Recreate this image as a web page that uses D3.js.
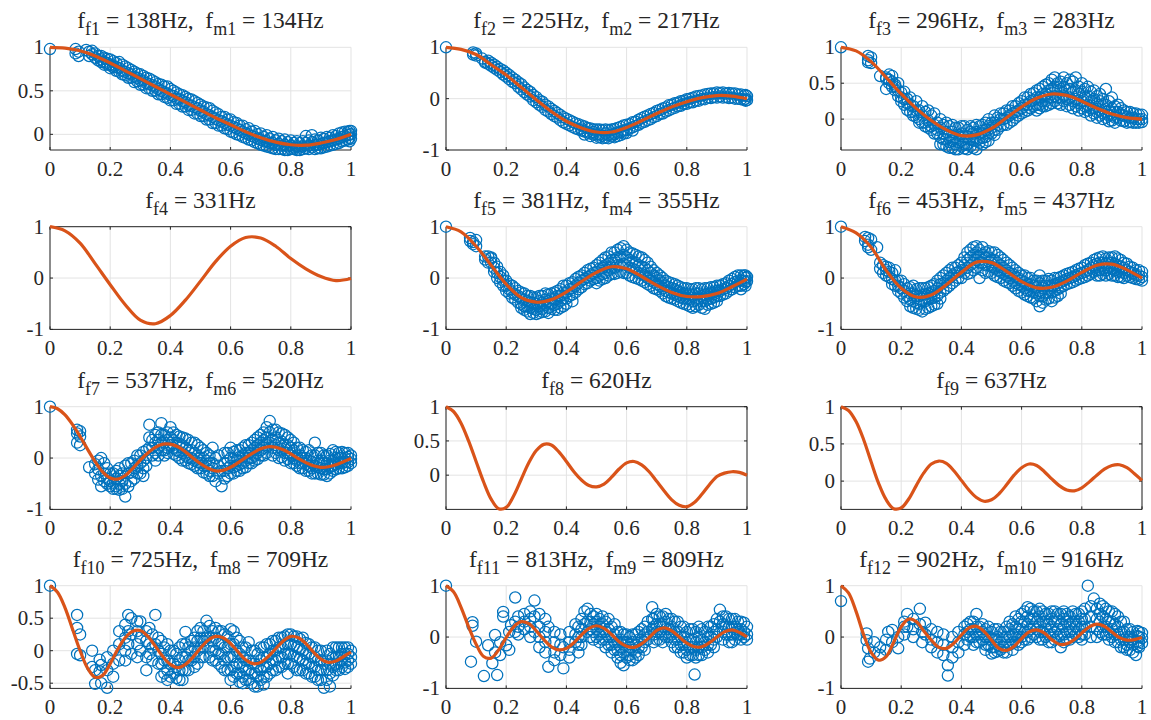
<!DOCTYPE html>
<html><head><meta charset="utf-8">
<script src="https://cdn.jsdelivr.net/npm/d3@7"></script>
</head><body style="margin:0">
<svg id="chart" width="1151" height="720"></svg>
<script>
// ---------- data ----------
const xTicks = [0, 0.2, 0.4, 0.6, 0.8, 1];
const xTickLabels = ["0", "0.2", "0.4", "0.6", "0.8", "1"];
const fNames = ["f1","f2","f3","f4","f5","f6","f7","f8","f9","f10","f11","f12"];
const fFreqs = [138, 225, 296, 331, 381, 453, 537, 620, 637, 725, 813, 902];
const mNames = ["m1","m2","m3",null,"m4","m5","m6",null,null,"m8","m9","m10"];
const mFreqs = [134, 217, 283, null, 355, 437, 520, null, null, 709, 809, 916];
const yDomains = [[-0.18,1],[-1,1],[-0.43,1],[-1,1],[-1,1],[-1,1],[-1,1],[-0.5,1],[-0.38,1],[-0.58,1],[-1,1],[-1,1]];
const yTicks = [[0,0.5,1],[-1,0,1],[0,0.5,1],[-1,0,1],[-1,0,1],[-1,0,1],[-1,0,1],[0,0.5,1],[0,0.5,1],[-0.5,0,0.5,1],[-1,0,1],[-1,0,1]];
const yTickLabels = [["0","0.5","1"],["-1","0","1"],["0","0.5","1"],["-1","0","1"],["-1","0","1"],["-1","0","1"],["-1","0","1"],["0","0.5","1"],["0","0.5","1"],["-0.5","0","0.5","1"],["-1","0","1"],["-1","0","1"]];

const xCoarse = [0,0.05,0.1,0.15,0.2,0.25,0.3,0.35,0.4,0.45,0.5,0.55,0.6,0.65,0.7,0.75,0.8,0.85,0.9,0.95,1];
const xFine = [0,0.025,0.05,0.075,0.1,0.125,0.15,0.175,0.2,0.225,0.25,0.275,0.3,0.325,0.35,0.375,0.4,0.425,0.45,0.475,0.5,0.525,0.55,0.575,0.6,0.625,0.65,0.675,0.7,0.725,0.75,0.775,0.8,0.825,0.85,0.875,0.9,0.925,0.95,0.975,1];

const curve1 = [1.0,0.99,0.96,0.9,0.82,0.73,0.64,0.55,0.46,0.37,0.28,0.19,0.11,0.03,-0.04,-0.09,-0.12,-0.125,-0.1,-0.06,0.0];
const curve2 = [1.0,0.96,0.86,0.66,0.46,0.22,-0.02,-0.25,-0.44,-0.57,-0.65,-0.65,-0.56,-0.43,-0.29,-0.16,-0.06,0.02,0.06,0.05,0.0];
const curve3 = [1.0,0.95,0.8,0.58,0.35,0.15,-0.02,-0.15,-0.23,-0.22,-0.13,0.02,0.17,0.29,0.35,0.33,0.25,0.15,0.07,0.02,0.0];
const curve4 = [1.0,0.92,0.68,0.28,-0.13,-0.52,-0.82,-0.89,-0.73,-0.43,-0.06,0.32,0.62,0.79,0.78,0.62,0.38,0.18,0.03,-0.05,-0.01];
const curve5 = [1.0,0.9,0.62,0.25,-0.12,-0.38,-0.47,-0.42,-0.27,-0.07,0.11,0.22,0.18,0.03,-0.14,-0.28,-0.36,-0.36,-0.3,-0.17,-0.02];
const curve6 = [1.0,0.88,0.6,0.15,-0.2,-0.37,-0.33,-0.13,0.11,0.31,0.3,0.13,-0.07,-0.19,-0.18,-0.06,0.11,0.25,0.27,0.16,0.0];
const curve7 = [1.0,0.96,0.84,0.65,0.42,0.17,-0.07,-0.27,-0.39,-0.41,-0.34,-0.2,-0.04,0.1,0.21,0.27,0.27,0.22,0.12,0.0,-0.11,-0.2,-0.25,-0.24,-0.18,-0.09,0.01,0.1,0.18,0.22,0.21,0.16,0.08,-0.01,-0.09,-0.15,-0.18,-0.17,-0.13,-0.07,-0.01];
const curve8 = [1.0,0.93,0.76,0.5,0.2,-0.1,-0.35,-0.49,-0.47,-0.3,-0.06,0.18,0.36,0.45,0.44,0.34,0.2,0.05,-0.07,-0.15,-0.17,-0.13,-0.03,0.09,0.18,0.2,0.15,0.05,-0.09,-0.23,-0.36,-0.44,-0.46,-0.4,-0.28,-0.14,-0.02,0.03,0.05,0.04,0.0];
const curve9 = [1.0,0.95,0.8,0.56,0.26,-0.03,-0.25,-0.37,-0.36,-0.24,-0.06,0.11,0.23,0.27,0.24,0.14,0.01,-0.12,-0.22,-0.27,-0.25,-0.17,-0.05,0.08,0.18,0.23,0.21,0.13,0.03,-0.06,-0.12,-0.13,-0.09,-0.01,0.08,0.16,0.21,0.22,0.18,0.1,0.01];
const curve10 = [1.0,0.9,0.66,0.33,0.0,-0.27,-0.41,-0.38,-0.2,0.02,0.2,0.3,0.31,0.22,0.07,-0.09,-0.21,-0.26,-0.21,-0.1,0.04,0.16,0.22,0.2,0.11,-0.02,-0.14,-0.2,-0.18,-0.09,0.03,0.15,0.22,0.2,0.11,-0.02,-0.13,-0.18,-0.16,-0.09,-0.02];
const curve11 = [1.0,0.88,0.58,0.2,-0.14,-0.38,-0.41,-0.25,-0.01,0.2,0.3,0.26,0.12,-0.05,-0.19,-0.25,-0.22,-0.11,0.04,0.17,0.22,0.17,0.05,-0.09,-0.18,-0.2,-0.13,-0.01,0.13,0.18,0.12,0.0,-0.12,-0.19,-0.19,-0.11,0.0,0.1,0.14,0.09,0.0];
const curve12 = [1.0,0.86,0.5,0.05,-0.3,-0.45,-0.38,-0.1,0.2,0.35,0.3,0.12,-0.06,-0.2,-0.22,-0.12,0.04,0.18,0.21,0.11,-0.06,-0.22,-0.26,-0.18,-0.03,0.1,0.14,0.08,-0.05,-0.14,-0.13,-0.05,0.08,0.2,0.25,0.21,0.1,-0.01,-0.06,-0.05,-0.01];

// measured points: each entry is [x, y1, y2, ...] (several measurements at one x)
const scatter1 = [[0,0.98],[0.085,0.98,0.93],[0.095,0.95,0.9],[0.13,0.95,0.9],[0.15,0.93,0.88],[0.17,0.9,0.86,0.83],[0.19,0.87,0.82,0.8],[0.21,0.84,0.79,0.77],[0.23,0.83,0.76,0.72],[0.25,0.78,0.72,0.68],[0.27,0.74,0.69,0.65],[0.29,0.7,0.65,0.61],[0.31,0.67,0.62,0.57],[0.33,0.64,0.58,0.53],[0.35,0.6,0.55,0.5],[0.37,0.57,0.5,0.46],[0.39,0.55,0.47,0.42],[0.41,0.5,0.44,0.39],[0.43,0.46,0.41,0.35],[0.45,0.43,0.37,0.32],[0.47,0.4,0.33,0.28],[0.49,0.36,0.3,0.24],[0.51,0.32,0.26,0.21],[0.53,0.3,0.22,0.17],[0.55,0.25,0.18,0.13],[0.57,0.2,0.15,0.1],[0.59,0.17,0.11,0.06],[0.61,0.14,0.08,0.02],[0.63,0.1,0.05,-0.01],[0.65,0.06,0.01,-0.04],[0.67,0.03,-0.02,-0.07],[0.69,0.0,-0.05,-0.1],[0.71,-0.03,-0.08,-0.13],[0.73,-0.05,-0.1,-0.15],[0.75,-0.07,-0.12,-0.17],[0.77,-0.08,-0.13,-0.17],[0.79,-0.09,-0.14,-0.18],[0.81,-0.1,-0.15,-0.17],[0.83,-0.1,-0.15,-0.18],[0.85,-0.02,-0.1,-0.16],[0.87,-0.01,-0.09,-0.15],[0.89,-0.07,-0.12,-0.16],[0.91,-0.05,-0.1,-0.15],[0.93,-0.04,-0.08,-0.13],[0.95,-0.02,-0.06,-0.11],[0.97,0.02,-0.03,-0.08],[0.99,0.03,-0.01,-0.06],[1.0,0.04,0.0,-0.05],
  [0.12,0.97],[0.14,0.92,0.96],[0.16,0.9,0.85],[0.18,0.88,0.83,0.8],[0.2,0.86,0.8,0.76],[0.22,0.82,0.77,0.73],[0.24,0.8,0.73,0.69],[0.26,0.76,0.7,0.65],[0.28,0.72,0.66,0.6],[0.3,0.69,0.62,0.57],[0.32,0.65,0.59,0.53],[0.34,0.62,0.56,0.5],[0.36,0.58,0.52,0.46],[0.38,0.55,0.48,0.43],[0.4,0.52,0.45,0.39],[0.42,0.48,0.41,0.35],[0.44,0.45,0.38,0.32],[0.46,0.41,0.34,0.28],[0.48,0.38,0.31,0.24],[0.5,0.34,0.27,0.21],[0.52,0.31,0.23,0.17],[0.54,0.27,0.2,0.13],[0.56,0.23,0.16,0.1],[0.58,0.2,0.13,0.07],[0.6,0.17,0.1,0.03],[0.62,0.13,0.07,0.0],[0.64,0.1,0.03,-0.03],[0.66,0.07,0.0,-0.06],[0.68,0.04,-0.03,-0.09],[0.7,0.01,-0.06,-0.12],[0.72,-0.01,-0.08,-0.14],[0.74,-0.03,-0.1,-0.16],[0.76,-0.05,-0.11,-0.17],[0.78,-0.06,-0.12,-0.18],[0.8,-0.07,-0.13,-0.17],[0.82,-0.08,-0.14,-0.18],[0.84,-0.08,-0.14,-0.17],[0.86,-0.07,-0.13,-0.17],[0.88,-0.06,-0.12,-0.17],[0.9,-0.04,-0.11,-0.16],[0.92,-0.03,-0.09,-0.14],[0.94,-0.01,-0.07,-0.12],[0.96,0.01,-0.05,-0.1],[0.98,0.03,-0.02,-0.07],[0.995,0.04,0.0,-0.04,-0.08]];
const scatter2 = [[0,1.0],[0.09,0.9,0.86],[0.1,0.88,0.84],[0.12,0.78],[0.13,0.72,0.7],[0.15,0.7,0.64],[0.17,0.62,0.56],[0.19,0.55,0.47],[0.21,0.46,0.38],[0.23,0.37,0.3],[0.25,0.28,0.18],[0.27,0.17,0.08],[0.29,0.07,-0.03],[0.31,-0.03,-0.12],[0.33,-0.12,-0.22],[0.35,-0.2,-0.3],[0.37,-0.28,-0.37],[0.39,-0.36,-0.46],[0.41,-0.42,-0.52],[0.43,-0.48,-0.58],[0.45,-0.52,-0.62,-0.58],[0.47,-0.57,-0.66],[0.49,-0.6,-0.7,-0.65],[0.51,-0.6,-0.7,-0.75],[0.53,-0.6,-0.68,-0.76],[0.55,-0.6,-0.7,-0.74],[0.57,-0.57,-0.66,-0.73],[0.59,-0.52,-0.62,-0.68],[0.61,-0.5,-0.58],[0.63,-0.45,-0.53],[0.65,-0.38,-0.47],[0.67,-0.33,-0.42],[0.69,-0.28,-0.36],[0.71,-0.22,-0.3],[0.73,-0.17,-0.25],[0.75,-0.12,-0.2],[0.77,-0.08,-0.15],[0.79,-0.04,-0.1],[0.81,0.0,-0.07],[0.83,0.04,-0.04],[0.85,0.06,-0.01],[0.87,0.09,0.02],[0.89,0.1,0.03],[0.91,0.11,0.04],[0.93,0.1,0.03],[0.95,0.1,0.02],[0.97,0.08,0.0],[0.99,0.06,-0.02],[1.0,0.05,-0.03],
  [0.14,0.74,0.68],[0.16,0.66,0.6],[0.18,0.58,0.52],[0.2,0.5,0.43],[0.22,0.41,0.33],[0.24,0.32,0.23],[0.26,0.22,0.13],[0.28,0.13,0.04],[0.3,0.03,-0.07],[0.32,-0.06,-0.16],[0.34,-0.15,-0.25],[0.36,-0.24,-0.34],[0.38,-0.32,-0.42],[0.4,-0.39,-0.49],[0.42,-0.45,-0.55],[0.44,-0.5,-0.6],[0.46,-0.54,-0.64,-0.7],[0.48,-0.58,-0.68,-0.73],[0.5,-0.6,-0.7,-0.76],[0.52,-0.61,-0.72,-0.77],[0.54,-0.61,-0.71,-0.77],[0.56,-0.59,-0.69,-0.75],[0.58,-0.55,-0.65,-0.71],[0.6,-0.51,-0.61,-0.67],[0.62,-0.46,-0.56,-0.62],[0.64,-0.41,-0.51],[0.66,-0.35,-0.45],[0.68,-0.3,-0.4],[0.7,-0.24,-0.34],[0.72,-0.19,-0.29],[0.74,-0.13,-0.23],[0.76,-0.09,-0.18],[0.78,-0.05,-0.14],[0.8,-0.01,-0.1],[0.82,0.02,-0.07],[0.84,0.05,-0.04],[0.86,0.08,-0.01],[0.88,0.1,0.01],[0.9,0.12,0.02],[0.92,0.12,0.02],[0.94,0.11,0.01],[0.96,0.1,0.0],[0.98,0.08,-0.01],[0.995,0.07,0.0,-0.04]];
const scatter3 = [[0,1.0],[0.09,0.88,0.82,0.79],[0.1,0.86,0.78],[0.13,0.6],[0.15,0.58,0.56,0.42],[0.16,0.62,0.5,0.55],[0.18,0.48,0.4,0.45],[0.2,0.3,0.25,0.37],[0.22,0.22,0.13,0.28],[0.24,0.18,0.05,0.1],[0.26,0.12,-0.05,0.0],[0.28,0.1,-0.1,-0.05],[0.3,0.05,-0.15,-0.1],[0.32,-0.05,-0.2,-0.15],[0.34,-0.08,-0.28,-0.2,-0.35],[0.36,-0.1,-0.22,-0.32,-0.4],[0.38,-0.12,-0.25,-0.35,-0.42],[0.4,-0.1,-0.2,-0.3,-0.38],[0.42,-0.15,-0.25,-0.35,-0.42],[0.44,-0.12,-0.2,-0.3,-0.4],[0.46,-0.1,-0.2,-0.27,-0.33],[0.48,-0.05,-0.15,-0.25,-0.32],[0.5,-0.05,-0.12,-0.2],[0.52,0.02,-0.08,-0.15],[0.54,0.08,0.0,-0.08],[0.56,0.12,0.05,-0.05],[0.58,0.18,0.1,0.02],[0.6,0.25,0.15,0.08],[0.62,0.3,0.2,0.12],[0.64,0.36,0.27,0.18],[0.66,0.42,0.3,0.2,0.15],[0.68,0.48,0.35,0.25,0.18],[0.7,0.55,0.42,0.3,0.22],[0.72,0.5,0.4,0.3,0.22],[0.74,0.58,0.45,0.33,0.25],[0.76,0.55,0.42,0.3,0.2],[0.78,0.58,0.4,0.28,0.18],[0.8,0.5,0.38,0.25,0.15],[0.82,0.45,0.32,0.2,0.12],[0.84,0.4,0.28,0.15,0.08],[0.86,0.35,0.25,0.12,0.05],[0.88,0.42,0.2,0.1,0.02],[0.9,0.3,0.15,0.05,-0.02],[0.92,0.2,0.1,0.02],[0.94,0.12,0.05,-0.03],[0.96,0.1,0.02,-0.04],[0.98,0.08,0.0,-0.05],[1.0,0.06,0.0,-0.04],
  [0.17,0.6,0.52,0.45],[0.19,0.5,0.4,0.32],[0.21,0.38,0.28,0.2],[0.23,0.3,0.2,0.1],[0.25,0.25,0.12,0.03],[0.27,0.18,0.05,-0.05],[0.29,0.12,-0.02,-0.12],[0.31,0.08,-0.08,-0.2],[0.33,0.0,-0.12,-0.25,-0.35],[0.35,-0.05,-0.18,-0.28,-0.38],[0.37,-0.08,-0.18,-0.3,-0.4],[0.39,-0.12,-0.22,-0.32,-0.42],[0.41,-0.1,-0.25,-0.35,-0.41],[0.43,-0.1,-0.18,-0.28,-0.38],[0.45,-0.08,-0.18,-0.3,-0.42],[0.47,-0.08,-0.16,-0.26,-0.35],[0.49,0.0,-0.1,-0.2,-0.3],[0.51,0.05,-0.05,-0.15,-0.22],[0.53,0.08,0.0,-0.1],[0.55,0.12,0.02,-0.08],[0.57,0.18,0.08,-0.02],[0.59,0.22,0.12,0.05],[0.61,0.3,0.2,0.1],[0.63,0.35,0.25,0.15],[0.65,0.4,0.3,0.2,0.12],[0.67,0.45,0.35,0.25,0.18],[0.69,0.5,0.4,0.3,0.2],[0.71,0.58,0.45,0.32,0.25],[0.73,0.52,0.42,0.3,0.2],[0.75,0.5,0.4,0.28,0.18],[0.77,0.52,0.38,0.25,0.15],[0.79,0.45,0.35,0.22,0.12],[0.81,0.42,0.3,0.18,0.1],[0.83,0.38,0.25,0.15,0.05],[0.85,0.32,0.22,0.1,0.02],[0.87,0.28,0.18,0.08,0.0],[0.89,0.25,0.12,0.05,-0.03],[0.91,0.18,0.1,0.02,-0.05],[0.93,0.15,0.06,-0.02],[0.95,0.1,0.03,-0.05],[0.97,0.08,0.02,-0.05],[0.99,0.06,0.0,-0.05]];
const scatter5 = [[0,1.0],[0.08,0.78,0.72],[0.09,0.7,0.66],[0.1,0.74,0.62],[0.13,0.42,0.36],[0.15,0.4,0.3,0.38],[0.17,0.22,0.1,0.0],[0.19,0.05,-0.05,-0.15],[0.21,-0.12,-0.22,-0.3],[0.23,-0.2,-0.32,-0.42],[0.25,-0.28,-0.4,-0.5,-0.58],[0.27,-0.35,-0.45,-0.55,-0.65],[0.29,-0.38,-0.48,-0.6,-0.68],[0.31,-0.35,-0.45,-0.55,-0.68],[0.33,-0.3,-0.42,-0.52,-0.65],[0.35,-0.3,-0.4,-0.5,-0.6],[0.37,-0.25,-0.35,-0.5,-0.62],[0.39,-0.15,-0.28,-0.4,-0.55],[0.41,-0.1,-0.22,-0.35],[0.43,-0.02,-0.15,-0.28],[0.45,0.05,-0.05,-0.18],[0.47,0.15,0.02,-0.1],[0.49,0.2,0.1,-0.02],[0.51,0.3,0.18,0.05,-0.05],[0.53,0.4,0.25,0.1,0.0],[0.55,0.5,0.35,0.2,0.08],[0.57,0.55,0.4,0.25,0.1],[0.59,0.62,0.45,0.28,0.1],[0.61,0.5,0.35,0.2,0.05],[0.63,0.45,0.3,0.15,0.0],[0.65,0.4,0.22,0.08,-0.05],[0.67,0.3,0.15,0.0,-0.12],[0.69,0.15,0.05,-0.08,-0.2],[0.71,0.05,-0.05,-0.15,-0.25],[0.73,-0.05,-0.15,-0.25,-0.35],[0.75,-0.1,-0.2,-0.3,-0.4],[0.77,-0.15,-0.25,-0.35,-0.45],[0.79,-0.2,-0.3,-0.4,-0.5],[0.81,-0.22,-0.32,-0.42,-0.55],[0.83,-0.2,-0.3,-0.42,-0.55],[0.85,-0.22,-0.35,-0.45,-0.58],[0.87,-0.2,-0.3,-0.42,-0.52],[0.89,-0.18,-0.28,-0.38,-0.48],[0.91,-0.15,-0.25,-0.35],[0.93,-0.1,-0.2,-0.3],[0.95,-0.02,-0.12,-0.22],[0.97,0.05,-0.05,-0.15],[0.99,0.05,-0.05,-0.12],[1.0,0.02,-0.06],
  [0.14,0.42,0.3],[0.16,0.3,0.2,0.12],[0.18,0.12,0.02,-0.08],[0.2,-0.05,-0.15,-0.25],[0.22,-0.15,-0.28,-0.38],[0.24,-0.25,-0.35,-0.48],[0.26,-0.3,-0.42,-0.55,-0.62],[0.28,-0.35,-0.47,-0.58,-0.7],[0.3,-0.38,-0.5,-0.62,-0.7],[0.32,-0.35,-0.48,-0.6,-0.66],[0.34,-0.32,-0.45,-0.58,-0.68],[0.36,-0.28,-0.4,-0.52,-0.62],[0.38,-0.22,-0.35,-0.45,-0.58],[0.4,-0.15,-0.28,-0.4,-0.5],[0.42,-0.08,-0.2,-0.32,-0.45],[0.44,0.02,-0.1,-0.22],[0.46,0.1,-0.02,-0.12],[0.48,0.18,0.05,-0.05],[0.5,0.25,0.12,0.0,-0.1],[0.52,0.35,0.2,0.08,-0.02],[0.54,0.42,0.28,0.15,0.05],[0.56,0.5,0.35,0.2,0.08],[0.58,0.58,0.42,0.25,0.12],[0.6,0.55,0.4,0.25,0.1],[0.62,0.48,0.32,0.18,0.02],[0.64,0.42,0.25,0.1,-0.02],[0.66,0.35,0.2,0.05,-0.08],[0.68,0.22,0.1,-0.05,-0.15],[0.7,0.1,0.0,-0.12,-0.22],[0.72,0.0,-0.1,-0.2,-0.3],[0.74,-0.08,-0.18,-0.28,-0.38],[0.76,-0.12,-0.22,-0.32,-0.42],[0.78,-0.18,-0.28,-0.38,-0.48],[0.8,-0.2,-0.3,-0.4,-0.52],[0.82,-0.22,-0.32,-0.45,-0.58],[0.84,-0.2,-0.3,-0.4,-0.52],[0.86,-0.2,-0.32,-0.45,-0.6],[0.88,-0.18,-0.28,-0.4,-0.5],[0.9,-0.15,-0.25,-0.35,-0.45],[0.92,-0.12,-0.22,-0.32],[0.94,-0.05,-0.15,-0.25],[0.96,0.02,-0.08,-0.18],[0.98,0.05,-0.05,-0.15,-0.22],[0.995,0.05,0.0,-0.08,-0.15]];
const scatter6 = [[0,1.0],[0.08,0.8,0.72],[0.09,0.78,0.65,0.6],[0.1,0.75,0.55],[0.12,0.6],[0.14,0.25,0.1],[0.16,0.2,0.12,0.02],[0.18,0.15,-0.05,-0.15],[0.2,-0.05,-0.2,-0.3],[0.22,-0.2,-0.35,-0.45],[0.24,-0.15,-0.3,-0.45,-0.58],[0.26,-0.2,-0.35,-0.5,-0.62],[0.28,-0.2,-0.32,-0.45,-0.6],[0.3,-0.15,-0.28,-0.4,-0.55],[0.32,-0.05,-0.2,-0.35,-0.5],[0.34,0.05,-0.1,-0.25],[0.36,0.15,0.0,-0.15],[0.38,0.2,0.1,-0.05],[0.4,0.3,0.15,0.0],[0.42,0.5,0.35,0.2,0.08],[0.44,0.6,0.45,0.3,0.15],[0.46,0.55,0.42,0.3,0.0],[0.48,0.5,0.4,0.25,0.1],[0.5,0.5,0.35,0.22,0.1],[0.52,0.45,0.3,0.15,0.02],[0.54,0.35,0.2,0.08,-0.05],[0.56,0.25,0.1,0.0,-0.1],[0.58,0.15,0.02,-0.1,-0.2],[0.6,0.05,-0.05,-0.15,-0.28],[0.62,0.0,-0.12,-0.25,-0.35],[0.64,-0.05,-0.15,-0.28,-0.4],[0.66,0.05,-0.1,-0.25,-0.35,-0.55],[0.68,-0.05,-0.15,-0.3,-0.42],[0.7,-0.05,-0.15,-0.28,-0.45],[0.72,0.0,-0.1,-0.22,-0.35],[0.74,0.05,-0.05,-0.15],[0.76,0.1,0.0,-0.1],[0.78,0.15,0.05,-0.05],[0.8,0.2,0.1,0.0],[0.82,0.28,0.15,0.05],[0.84,0.35,0.25,0.12],[0.86,0.4,0.3,0.15,0.05],[0.88,0.38,0.28,0.15,0.05],[0.9,0.4,0.3,0.18,0.05],[0.92,0.38,0.25,0.12,0.02],[0.94,0.3,0.2,0.1,0.0],[0.96,0.22,0.12,0.02],[0.98,0.15,0.05,-0.02],[1.0,0.12,0.02,-0.05],
  [0.13,0.3,0.18],[0.15,0.15,0.05,0.22],[0.17,0.1,-0.02,-0.12],[0.19,-0.05,-0.15,-0.25],[0.21,-0.12,-0.25,-0.38],[0.23,-0.18,-0.3,-0.42,-0.55],[0.25,-0.22,-0.35,-0.48,-0.6],[0.27,-0.2,-0.32,-0.45,-0.65],[0.29,-0.18,-0.3,-0.42,-0.58],[0.31,-0.12,-0.25,-0.38,-0.52],[0.33,0.0,-0.12,-0.28,-0.4],[0.35,0.1,-0.05,-0.2],[0.37,0.2,0.05,-0.1],[0.39,0.25,0.12,0.0],[0.41,0.4,0.25,0.1],[0.43,0.55,0.4,0.25,0.1],[0.45,0.62,0.5,0.35,0.2],[0.47,0.6,0.45,0.3,0.15],[0.49,0.52,0.4,0.25,0.12],[0.51,0.5,0.35,0.2,0.05],[0.53,0.4,0.25,0.12,0.0],[0.55,0.3,0.15,0.05,-0.08],[0.57,0.2,0.08,-0.05,-0.15],[0.59,0.1,0.0,-0.12,-0.25],[0.61,0.05,-0.08,-0.2,-0.32],[0.63,0.0,-0.12,-0.25,-0.38],[0.65,-0.05,-0.18,-0.3,-0.45],[0.67,-0.05,-0.2,-0.35,-0.48],[0.69,-0.02,-0.15,-0.28,-0.4],[0.71,0.0,-0.12,-0.25,-0.38],[0.73,0.02,-0.08,-0.18,-0.3],[0.75,0.08,-0.02,-0.12],[0.77,0.12,0.02,-0.08],[0.79,0.18,0.08,-0.02],[0.81,0.25,0.12,0.02],[0.83,0.3,0.2,0.08],[0.85,0.38,0.28,0.15,0.05],[0.87,0.42,0.3,0.18,0.08],[0.89,0.4,0.3,0.2,0.08],[0.91,0.42,0.28,0.15,0.05],[0.93,0.35,0.22,0.12,0.02],[0.95,0.28,0.15,0.05],[0.97,0.2,0.1,0.0],[0.99,0.15,0.05,-0.03]];
const scatter7 = [[0,1.0],[0.09,0.55,0.48,0.3],[0.1,0.52,0.42,0.25],[0.13,-0.18],[0.15,-0.12,-0.3],[0.16,-0.05,-0.22,-0.42],[0.17,0.0,-0.35,-0.55],[0.18,-0.1,-0.45,-0.3],[0.2,-0.3,-0.45,-0.55],[0.22,-0.25,-0.4,-0.55,-0.6],[0.24,-0.3,-0.45,-0.6],[0.25,-0.15,-0.5,-0.75],[0.26,-0.1,-0.3,-0.55],[0.28,-0.05,-0.2,-0.4],[0.3,0.05,-0.1,-0.3],[0.32,0.15,0.0,-0.15],[0.33,0.65,0.4,0.2],[0.35,0.45,0.3,0.1,-0.05],[0.37,0.68,0.45,0.3,0.15],[0.39,0.5,0.35,0.2,0.1],[0.4,0.6,0.4,0.25],[0.42,0.45,0.3,0.15,0.05],[0.44,0.4,0.25,0.1,-0.05],[0.46,0.35,0.15,0.0,-0.1],[0.48,0.3,0.1,-0.05,-0.15],[0.5,0.2,0.0,-0.1,-0.2],[0.52,0.1,-0.05,-0.15,-0.3],[0.54,0.2,-0.1,-0.2,-0.35],[0.55,-0.45,0.0],[0.56,0.05,-0.15,-0.3],[0.57,-0.55,-0.25],[0.58,0.1,-0.1,-0.25,-0.4],[0.6,0.2,0.0,-0.15,-0.3],[0.62,0.15,-0.05,-0.15,-0.25],[0.64,0.2,0.05,-0.1,-0.2],[0.66,0.25,0.1,0.0,-0.1],[0.68,0.35,0.2,0.05,-0.05],[0.7,0.45,0.3,0.15,0.05],[0.72,0.6,0.4,0.25,0.1],[0.73,0.72,0.5,0.3],[0.74,0.55,0.35,0.2,0.05],[0.76,0.5,0.3,0.15,0.0],[0.78,0.45,0.25,0.1,-0.05],[0.8,0.35,0.2,0.05,-0.1],[0.82,0.2,0.05,-0.05,-0.15],[0.84,0.15,0.0,-0.1,-0.2],[0.86,0.15,-0.05,-0.15,-0.25],[0.88,0.3,0.05,-0.15,-0.3],[0.9,0.1,-0.05,-0.2,-0.32],[0.92,0.05,-0.1,-0.22,-0.35],[0.94,0.15,-0.05,-0.15,-0.25],[0.96,0.1,0.0,-0.1,-0.2],[0.98,0.1,0.0,-0.08,-0.18],[1.0,0.05,-0.02,-0.1],
  [0.19,-0.2,-0.4,-0.5],[0.21,-0.3,-0.48,-0.6],[0.23,-0.2,-0.35,-0.5,-0.62],[0.27,-0.1,-0.28,-0.45],[0.29,0.05,-0.15,-0.3],[0.31,0.12,-0.05,-0.2,-0.35],[0.34,0.35,0.2,0.05],[0.36,0.5,0.35,0.2,0.05],[0.38,0.45,0.3,0.15,0.05],[0.41,0.5,0.35,0.2,0.08],[0.43,0.42,0.28,0.12,0.0],[0.45,0.38,0.2,0.05,-0.05],[0.47,0.3,0.15,0.0,-0.12],[0.49,0.25,0.05,-0.08,-0.2],[0.51,0.15,0.0,-0.15,-0.28],[0.53,0.05,-0.1,-0.25,-0.35],[0.59,0.1,-0.05,-0.2,-0.35],[0.61,0.12,-0.02,-0.18,-0.3],[0.63,0.15,0.02,-0.12,-0.25],[0.65,0.25,0.1,-0.05,-0.18],[0.67,0.3,0.15,0.0,-0.1],[0.69,0.4,0.25,0.1,-0.02],[0.71,0.5,0.35,0.2,0.05],[0.75,0.55,0.4,0.25,0.1],[0.77,0.48,0.32,0.18,0.02],[0.79,0.4,0.25,0.1,-0.02],[0.81,0.3,0.15,0.0,-0.1],[0.83,0.2,0.05,-0.1,-0.2],[0.85,0.12,0.0,-0.12,-0.25],[0.87,0.05,-0.08,-0.2,-0.3],[0.89,0.1,-0.05,-0.18,-0.3],[0.91,0.05,-0.1,-0.22,-0.32],[0.93,0.08,-0.05,-0.18,-0.3],[0.95,0.12,0.0,-0.12,-0.22],[0.97,0.12,0.0,-0.1,-0.2],[0.99,0.1,0.02,-0.08,-0.15]];
const scatter10 = [[0,1.0],[0.09,0.55,0.35,-0.05],[0.1,0.25,-0.07],[0.14,0.0,-0.25],[0.15,-0.3,-0.51],[0.165,-0.14,-0.32],[0.17,-0.5,-0.22],[0.19,-0.57,-0.1,-0.3],[0.21,-0.4,-0.2,0.0],[0.23,-0.15,0.1,0.3],[0.25,0.2,0.0,0.4,-0.15],[0.26,0.55,0.3,0.1],[0.27,0.5,0.25,-0.05],[0.29,0.45,0.3,0.1,-0.1],[0.3,0.45,0.2,0.0],[0.32,0.3,0.15,-0.1,-0.3],[0.34,0.25,0.05,-0.15],[0.35,0.55,0.1],[0.37,0.15,-0.05,-0.2,-0.4],[0.39,0.1,-0.15,-0.3,-0.45],[0.41,0.0,-0.2,-0.35],[0.43,0.05,-0.15,-0.3,-0.45],[0.45,0.29,0.1,-0.1,-0.3],[0.47,0.15,0.0,-0.15],[0.49,0.3,0.15,0.0,-0.2],[0.51,0.3,0.15,0.05,-0.1],[0.52,0.46,0.2],[0.54,0.3,0.15,0.0,-0.15],[0.56,0.3,0.1,-0.05,-0.2],[0.58,0.25,0.05,-0.15,-0.3],[0.6,0.33,0.1,-0.1,-0.3,-0.45],[0.62,0.2,0.0,-0.2,-0.35],[0.64,0.05,-0.1,-0.25,-0.4,-0.5],[0.66,0.13,-0.15,-0.3,-0.45],[0.68,0.0,-0.2,-0.35,-0.55],[0.7,0.05,-0.15,-0.3,-0.45],[0.72,0.1,-0.1,-0.25,-0.4],[0.74,0.15,0.0,-0.15,-0.3],[0.76,0.2,0.05,-0.1,-0.25],[0.78,0.22,0.1,-0.05,-0.2],[0.8,0.25,0.1,-0.05,-0.2],[0.82,0.22,0.05,-0.1,-0.3],[0.84,0.2,0.0,-0.15,-0.3],[0.86,0.1,-0.05,-0.2,-0.35],[0.88,0.05,-0.1,-0.25,-0.4],[0.9,0.0,-0.15,-0.3,-0.45],[0.91,-0.57,-0.2],[0.93,-0.05,-0.2,-0.35,-0.55],[0.95,0.05,-0.1,-0.2,-0.3],[0.97,0.05,-0.05,-0.15,-0.25],[0.99,0.05,-0.05,-0.15,-0.25],[1.0,0.0,-0.1,-0.2],
  [0.33,0.35,0.1,-0.05],[0.36,0.2,0.0,-0.2],[0.38,0.05,-0.15,-0.35],[0.4,0.0,-0.2,-0.4],[0.42,-0.05,-0.25,-0.42],[0.44,0.1,-0.1,-0.3,-0.45],[0.46,0.05,-0.15,-0.3],[0.48,0.2,0.05,-0.1,-0.25],[0.5,0.35,0.2,0.05,-0.1],[0.53,0.38,0.2,0.05,-0.1],[0.55,0.35,0.2,0.0,-0.15],[0.57,0.3,0.12,-0.05,-0.25],[0.59,0.22,0.05,-0.1,-0.3],[0.61,0.3,0.1,-0.1,-0.25,-0.4],[0.63,0.15,-0.05,-0.2,-0.35,-0.48],[0.65,0.05,-0.15,-0.3,-0.45],[0.67,0.0,-0.2,-0.35,-0.5],[0.69,-0.05,-0.25,-0.4,-0.55],[0.71,0.05,-0.1,-0.25,-0.4,-0.52],[0.73,0.1,-0.05,-0.2,-0.35],[0.75,0.15,0.0,-0.15,-0.3],[0.77,0.2,0.05,-0.1,-0.25],[0.79,0.25,0.1,-0.05,-0.2,-0.35],[0.81,0.22,0.08,-0.08,-0.25],[0.83,0.18,0.02,-0.12,-0.3],[0.85,0.12,-0.05,-0.2,-0.35],[0.87,0.05,-0.1,-0.25,-0.4],[0.89,0.0,-0.15,-0.3,-0.45],[0.92,0.0,-0.15,-0.3,-0.45],[0.94,0.05,-0.1,-0.25,-0.38],[0.96,0.05,-0.08,-0.2,-0.3],[0.98,0.05,-0.05,-0.18,-0.28]];
const scatter11 = [[0,1.0],[0.083,-0.48],[0.088,0.29,0.22],[0.1,-0.09],[0.126,-0.76],[0.14,-0.16],[0.154,-0.51],[0.163,0.04,-0.3],[0.17,-0.74],[0.18,-0.35,-0.1],[0.19,0.49,0.4],[0.2,-0.16],[0.21,-0.25,0.1],[0.216,0.23],[0.23,0.77,0.3,0.1],[0.24,0.4,0.2,0.05],[0.26,0.45,0.3,0.15],[0.28,0.5,0.35,0.2,0.0],[0.294,0.71,0.4,0.1],[0.31,0.45,0.2,0.0,-0.2],[0.33,0.35,0.1,-0.1,-0.3],[0.34,-0.58,0.2],[0.36,0.1,-0.1,-0.3,-0.45],[0.38,0.05,-0.15,-0.35],[0.39,-0.61,-0.2],[0.41,0.1,-0.1,-0.25,-0.4],[0.43,0.25,0.05,-0.1],[0.45,0.35,0.15,0.0,-0.15],[0.46,0.5,0.25],[0.47,0.55,0.3,0.1],[0.49,0.4,0.25,0.1,-0.05],[0.51,0.35,0.2,0.05,-0.1],[0.53,0.3,0.1,-0.05,-0.2],[0.55,0.2,0.0,-0.15,-0.3],[0.57,0.1,-0.1,-0.25,-0.4],[0.59,-0.55,-0.3,-0.1,0.05],[0.61,0.0,-0.2,-0.35,-0.45],[0.63,0.05,-0.15,-0.3,-0.4],[0.65,0.15,-0.05,-0.2],[0.67,0.3,0.1,-0.05],[0.685,0.58,0.35,0.15],[0.7,0.45,0.25,0.1,-0.05],[0.72,0.4,0.2,0.05,-0.1],[0.74,0.35,0.15,0.0],[0.76,0.3,0.1,-0.05,-0.2],[0.78,0.2,0.0,-0.15,-0.3],[0.8,0.1,-0.1,-0.25,-0.4],[0.82,0.15,-0.05,-0.2,-0.35],[0.826,-0.73],[0.84,0.2,0.0,-0.2,-0.35],[0.86,0.1,-0.1,-0.25],[0.88,0.2,0.0,-0.15],[0.9,0.35,0.15,0.0],[0.91,0.53,0.3],[0.93,0.4,0.2,0.05],[0.95,0.35,0.2,0.05,-0.1],[0.97,0.3,0.15,0.05],[0.99,0.28,0.1,0.0],[1.0,0.2,0.05,-0.05],
  [0.44,0.2,0.0,-0.15,-0.3],[0.48,0.45,0.3,0.15,0.0],[0.5,0.45,0.3,0.15,0.0],[0.52,0.4,0.25,0.1,-0.05],[0.54,0.35,0.15,0.0,-0.15],[0.56,0.25,0.05,-0.1,-0.25],[0.58,0.1,-0.05,-0.2,-0.35,-0.5],[0.6,0.05,-0.1,-0.25,-0.4],[0.62,0.05,-0.1,-0.25,-0.45],[0.64,0.1,-0.05,-0.2,-0.35],[0.66,0.2,0.05,-0.1,-0.25],[0.69,0.35,0.2,0.05,-0.1],[0.71,0.4,0.25,0.1,-0.05],[0.73,0.45,0.3,0.15,0.0],[0.75,0.35,0.2,0.05,-0.1],[0.77,0.3,0.1,-0.05,-0.2],[0.79,0.2,0.0,-0.15,-0.3],[0.81,0.15,-0.05,-0.2,-0.35],[0.83,0.1,-0.1,-0.25,-0.4],[0.85,0.15,-0.05,-0.2,-0.35],[0.87,0.2,0.0,-0.15,-0.3],[0.89,0.25,0.1,-0.05,-0.2],[0.92,0.4,0.25,0.1,-0.05],[0.94,0.35,0.2,0.05,-0.1],[0.96,0.35,0.2,0.08,-0.05],[0.98,0.3,0.15,0.05,-0.05]];
const scatter12 = [[0,0.7],[0.085,0.07,-0.06],[0.09,-0.22,-0.48],[0.096,-0.42],[0.11,-0.3,-0.1],[0.13,-0.35,-0.2],[0.15,-0.25,-0.05],[0.157,0.1],[0.17,0.14,-0.1],[0.19,-0.22,0.0],[0.21,0.2,0.3,0.05],[0.22,0.45,0.2],[0.24,0.35,0.15,0.0],[0.262,0.55,0.25],[0.27,0.1,-0.1],[0.28,0.28,0.05],[0.3,0.15,-0.05,-0.2],[0.32,0.1,-0.1,-0.3],[0.34,0.05,-0.15,-0.35],[0.355,-0.55,-0.75],[0.37,0.0,-0.2,-0.4],[0.39,0.1,-0.1,-0.3],[0.41,0.2,0.05,-0.15],[0.43,0.3,0.15,0.0],[0.45,0.45,0.2,0.05,-0.1],[0.47,0.25,0.1,-0.05],[0.49,0.2,0.0,-0.15],[0.51,0.15,-0.05,-0.2,-0.3],[0.53,0.1,-0.1,-0.25],[0.55,0.2,0.0,-0.15,-0.3],[0.57,0.25,0.05,-0.1,-0.25],[0.59,0.35,0.15,0.0,-0.15],[0.61,0.5,0.3,0.1,-0.05],[0.63,0.55,0.35,0.15,0.0],[0.65,0.5,0.3,0.15,0.0],[0.67,0.5,0.3,0.1,-0.05],[0.69,0.45,0.25,0.05,-0.1],[0.71,0.5,0.3,0.1,-0.05],[0.73,0.45,0.25,0.05,-0.2],[0.75,0.45,0.3,0.1,-0.05],[0.77,0.5,0.3,0.15,0.0],[0.79,0.45,0.3,0.15,0.0],[0.81,0.55,0.35,0.2,0.05],[0.82,1.0],[0.83,0.6,0.4,0.2,0.0],[0.84,0.75],[0.85,0.55,0.35,0.15,0.0],[0.87,0.6,0.4,0.2,0.05],[0.89,0.5,0.3,0.1,-0.05],[0.91,0.45,0.25,0.05,-0.1],[0.93,0.3,0.1,-0.05,-0.2],[0.95,0.15,0.0,-0.15,-0.25],[0.97,0.1,-0.05,-0.15,-0.3],[0.98,-0.35],[0.99,0.1,0.0,-0.1,-0.2],[1.0,0.08,-0.02,-0.12],
  [0.42,0.25,0.1,-0.05],[0.44,0.3,0.15,0.0,-0.15],[0.46,0.2,0.05,-0.1],[0.48,0.15,0.0,-0.15,-0.25],[0.5,0.1,-0.05,-0.2,-0.32],[0.52,0.15,0.0,-0.15,-0.28],[0.54,0.1,-0.05,-0.2,-0.3],[0.56,0.3,0.15,0.0,-0.15],[0.58,0.4,0.2,0.05,-0.1],[0.6,0.45,0.3,0.15,0.0,-0.1],[0.62,0.58,0.4,0.25,0.1,-0.05],[0.64,0.5,0.35,0.2,0.05],[0.66,0.55,0.4,0.25,0.1,-0.05],[0.68,0.45,0.3,0.15,0.0],[0.7,0.5,0.35,0.2,0.05,-0.1],[0.72,0.45,0.3,0.15,0.0],[0.74,0.5,0.35,0.2,0.05,-0.1],[0.76,0.4,0.25,0.1,-0.05],[0.78,0.45,0.3,0.2,0.05],[0.8,0.5,0.35,0.2,0.05,-0.05],[0.86,0.65,0.45,0.3,0.1],[0.88,0.55,0.35,0.2,0.05],[0.9,0.5,0.3,0.15,0.0],[0.92,0.4,0.2,0.05,-0.1],[0.94,0.3,0.1,-0.05,-0.2],[0.96,0.15,0.0,-0.1,-0.25],[0.985,0.12,0.02,-0.08,-0.18]];

const curves = [curve1,curve2,curve3,curve4,curve5,curve6,curve7,curve8,curve9,curve10,curve11,curve12];
const curveXs = [xCoarse,xCoarse,xCoarse,xCoarse,xCoarse,xCoarse,xFine,xFine,xFine,xFine,xFine,xFine];
const scatters = [scatter1,scatter2,scatter3,null,scatter5,scatter6,scatter7,null,null,scatter10,scatter11,scatter12];

// ---------- layout ----------
const colLeft = [50, 446, 841];
const rowTop = [47.3, 226.7, 406.7, 585.7];
const W = 301, H = 102.7;
const BLUE = "#0072BD", ORANGE = "#D95319", AXIS = "#262626", GRID = "#e3e3e3";

const svg = d3.select("#chart");

for (let i = 0; i < 12; i++) {
  const r = Math.floor(i / 3), c = i % 3;
  const g = svg.append("g").attr("transform", `translate(${colLeft[c]},${rowTop[r]})`);
  const x = d3.scaleLinear().domain([0, 1]).range([0, W]);
  const y = d3.scaleLinear().domain(yDomains[i]).range([H, 0]);
  const boxOn = scatters[i] === null;

  // grid
  g.append("g").selectAll("line").data(xTicks).join("line")
    .attr("x1", d => x(d)).attr("x2", d => x(d)).attr("y1", 0).attr("y2", H)
    .attr("stroke", GRID).attr("stroke-width", 1);
  g.append("g").selectAll("line").data(yTicks[i]).join("line")
    .attr("x1", 0).attr("x2", W).attr("y1", d => y(d)).attr("y2", d => y(d))
    .attr("stroke", GRID).attr("stroke-width", 1);

  // axes lines
  g.append("line").attr("x1", 0).attr("x2", 0).attr("y1", 0).attr("y2", H).attr("stroke", AXIS);
  g.append("line").attr("x1", 0).attr("x2", W).attr("y1", H).attr("y2", H).attr("stroke", AXIS);
  if (boxOn) {
    g.append("line").attr("x1", W).attr("x2", W).attr("y1", 0).attr("y2", H).attr("stroke", AXIS);
    g.append("line").attr("x1", 0).attr("x2", W).attr("y1", 0).attr("y2", 0).attr("stroke", AXIS);
  }
  // inward ticks
  const tl = 3;
  g.append("g").selectAll("line").data(xTicks).join("line")
    .attr("x1", d => x(d)).attr("x2", d => x(d)).attr("y1", H).attr("y2", H - tl).attr("stroke", AXIS);
  g.append("g").selectAll("line").data(yTicks[i]).join("line")
    .attr("x1", 0).attr("x2", tl).attr("y1", d => y(d)).attr("y2", d => y(d)).attr("stroke", AXIS);
  if (boxOn) {
    g.append("g").selectAll("line").data(xTicks).join("line")
      .attr("x1", d => x(d)).attr("x2", d => x(d)).attr("y1", 0).attr("y2", tl).attr("stroke", AXIS);
    g.append("g").selectAll("line").data(yTicks[i]).join("line")
      .attr("x1", W).attr("x2", W - tl).attr("y1", d => y(d)).attr("y2", d => y(d)).attr("stroke", AXIS);
  }

  // tick labels
  g.append("g").selectAll("text").data(xTicks).join("text")
    .attr("font-family", "Liberation Serif").attr("font-size", 21).attr("fill", AXIS)
    .attr("x", d => x(d)).attr("y", H + 26).attr("text-anchor", "middle")
    .text((d, k) => xTickLabels[k]);
  g.append("g").selectAll("text").data(yTicks[i]).join("text")
    .attr("font-family", "Liberation Serif").attr("font-size", 21).attr("fill", AXIS)
    .attr("x", -6).attr("y", d => y(d) + 7).attr("text-anchor", "end")
    .text((d, k) => yTickLabels[i][k]);

  // scatter
  if (scatters[i]) {
    const pts = [];
    scatters[i].forEach(col => { for (let k = 1; k < col.length; k++) pts.push([col[0], col[k]]); });
    const dom = yDomains[i];
    g.append("g").selectAll("circle").data(pts.filter(p => p[1] >= dom[0] && p[1] <= dom[1])).join("circle")
      .attr("cx", d => x(d[0])).attr("cy", d => y(d[1])).attr("r", 5.6)
      .attr("fill", "none").attr("stroke", BLUE).attr("stroke-width", 1.25);
  }

  // curve
  const line = d3.line().x(d => x(d[0])).y(d => y(d[1])).curve(d3.curveCatmullRom.alpha(0.5));
  g.append("path").datum(curveXs[i].map((xv, k) => [xv, curves[i][k]]))
    .attr("d", line).attr("fill", "none").attr("stroke", ORANGE).attr("stroke-width", 3.2)
    .attr("stroke-linejoin", "round");

  // title
  const t = g.append("text").attr("font-family", "Liberation Serif").attr("font-size", 23.5).attr("fill", AXIS)
    .attr("x", W / 2).attr("y", -19).attr("text-anchor", "middle");
  t.append("tspan").text("f");
  t.append("tspan").attr("dy", 7).attr("font-size", 18).text(fNames[i]);
  t.append("tspan").attr("dy", -7).text("\u00a0= " + fFreqs[i] + "Hz" + (mNames[i] ? "," : ""));
  if (mNames[i]) {
    t.append("tspan").text("\u00a0\u00a0f");
    t.append("tspan").attr("dy", 7).attr("font-size", 18).text(mNames[i]);
    t.append("tspan").attr("dy", -7).text("\u00a0= " + mFreqs[i] + "Hz");
  }
}
</script>
</body></html>
